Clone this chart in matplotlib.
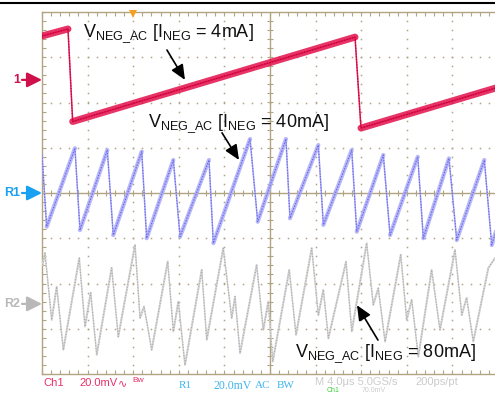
import numpy as np
import matplotlib.pyplot as plt
from matplotlib.ticker import MultipleLocator
from matplotlib.lines import Line2D

plt.rcParams['font.family'] = ['Liberation Sans', 'DejaVu Sans']
plt.rcParams['mathtext.default'] = 'regular'

# time base 4 us/div, 10 div; all channels 20 mV/div
# Ch1 : V_NEG_AC @ 4 mA  (offset +2.5 div)
red_t = [0.0, 2.28, 2.69, 27.46, 27.98, 40.0]
red_mv = [19.4, 22.5, -18.4, 18.9, -21.3, -3.3]
red_off = 2.5

# R1 : V_NEG_AC @ 40 mA  (offset 0 div)
r1_t = [0.00, 0.41, 2.89, 3.33, 5.73, 6.25, 8.75, 9.18, 11.52, 12.11,
        14.65, 15.03, 18.25, 18.92, 21.40, 21.75, 24.24, 24.68, 27.17, 27.61,
        29.94, 30.53, 32.96, 33.45, 35.70, 36.38, 38.80, 39.45, 40.0]
r1_mv = [16.8, -14.9, 19.8, -16.4, 19.0, -18.6, 18.3, -20.0, 14.6, -19.3,
         14.6, -22.2, 23.9, -12.7, 23.9, -11.2, 21.2, -14.1, 19.0, -17.1,
         16.8, -18.6, 16.0, -20.0, 15.3, -20.8, 14.6, -23.0, -14.0]
r1_off = 0.0

# R2 : V_NEG_AC @ 80 mA  (offset -2.45 div)
r2_t = [0.06, 0.26, 0.85, 1.29, 1.87, 3.27, 3.77, 4.27, 4.80, 6.11,
        6.69, 8.16, 8.60, 8.95, 9.62, 11.03, 11.52, 11.96, 12.54, 14.01,
        14.45, 15.90, 16.64, 16.93, 17.37, 18.83, 19.41, 19.85, 20.24, 21.69,
        22.28, 23.66, 24.24, 24.68, 25.12, 26.67, 27.17, 28.48, 29.06, 29.50,
        30.09, 31.47, 31.99, 32.43, 33.01, 34.18, 34.91, 36.23, 36.82, 37.25,
        37.83, 39.15, 39.74]
r2_mv = [17.2, 22.5, -7.1, 7.6, -20.3, 20.2, -10.0, 4.9, -22.5, 15.9,
         -14.5, 26.1, -6.2, -1.2, -20.3, 18.7, -12.2, 1.0, -27.0, 15.0,
         -15.9, 24.6, -6.3, 3.2, -21.8, 17.2, -11.5, 1.0, -25.5, 15.0,
         -13.7, 24.6, -4.9, 6.2, -15.2, 18.6, -12.2, 26.8, -0.4, 6.9,
         -16.7, 21.7, -7.1, 1.8, -23.3, 15.0, -11.5, 23.9, -4.9, 2.7,
         -16.7, 15.8, 20.3]
r2_off = -2.45

mv_per_div = 20.0

W, H = 495, 393
fig = plt.figure(figsize=(W / 100, H / 100), dpi=100)
ax = fig.add_axes([42 / W, 19 / H, 456 / W, 362 / H])
ax.set_xlim(0, 40)
ax.set_ylim(-4, 4)

grid_c = '#b0a482'
for s in ['left', 'top', 'bottom']:
    ax.spines[s].set_color(grid_c)
    ax.spines[s].set_linewidth(1.0)
ax.spines['right'].set_visible(False)
ax.xaxis.set_major_locator(MultipleLocator(4))
ax.xaxis.set_minor_locator(MultipleLocator(0.8))
ax.yaxis.set_major_locator(MultipleLocator(1))
ax.yaxis.set_minor_locator(MultipleLocator(0.2))
ax.tick_params(which='both', direction='in', length=3, width=0.8, color=grid_c,
               top=True, bottom=True, left=True, right=False,
               labelbottom=False, labelleft=False)

# dotted graticule
for gx in [4, 8, 12, 16, 24, 28, 32, 36]:
    yy = np.arange(-4, 4.01, 0.2)
    ax.plot(np.full_like(yy, gx), yy, ls='none', marker='s', ms=1.1, mew=0, color=grid_c, zorder=1)
for gy in [-3, -2, -1, 1, 2, 3]:
    xx = np.arange(0, 40.01, 0.8)
    ax.plot(xx, np.full_like(xx, gy), ls='none', marker='s', ms=1.1, mew=0, color=grid_c, zorder=1)

# centre cross with ticks
ax.axhline(0, color=grid_c, lw=1.0, zorder=1)
ax.axvline(20, color=grid_c, lw=1.0, zorder=1)
xx = np.arange(0, 40.01, 0.8)
ax.plot(xx, np.zeros_like(xx), ls='none', marker='|', ms=5, mew=0.8, color=grid_c, zorder=1)
yy = np.arange(-4, 4.01, 0.2)
ax.plot(np.full_like(yy, 20), yy, ls='none', marker='_', ms=5, mew=0.8, color=grid_c, zorder=1)


def draw_trace(t, mv, off, thin_c, thick_c, thick_lw, dot_c=None):
    t = np.array(t)
    y = off + np.array(mv) / mv_per_div
    ax.plot(t, y, color=thin_c, lw=1.1, zorder=3, solid_joinstyle='round')
    for i in range(len(t) - 1):
        if y[i + 1] > y[i]:
            ax.plot(t[i:i + 2], y[i:i + 2], color=thick_c, lw=thick_lw, zorder=3,
                    solid_capstyle='round', alpha=0.85)
    if dot_c is not None:
        ax.plot(t, y, color=dot_c, lw=0.8, ls=(0, (1, 1.5)), zorder=4)


draw_trace(r2_t, r2_mv, r2_off, '#d4d4d4', '#d8d8d8', 1.5, '#ababab')
draw_trace(r1_t, r1_mv, r1_off, '#a4a4f6', '#adadf7', 3.0, '#6262e8')
draw_trace(red_t, red_mv, red_off, '#e8195a', '#e3104c', 5.0, '#b80038')

# trigger marker
ax.plot(8, 3.95, marker='v', ms=6, color='#f5a020', mew=0, clip_on=False, zorder=5)

# annotations
lbl = r'V$_{NEG\_AC}$ [I$_{NEG}$ = %s]'
fs = 13
ax.text(3.6, 3.45, lbl % '4mA', fontsize=fs, color='#111111', zorder=6)
ax.text(9.3, 1.46, lbl % '40mA', fontsize=fs, color='#111111', zorder=6)
ax.text(22.2, -3.62, lbl % '80mA', fontsize=fs, color='#111111', zorder=6)
arr = dict(arrowstyle='-|>,head_length=0.9,head_width=0.4', color='black', lw=1.2,
           shrinkA=0, shrinkB=0, mutation_scale=10)
ax.annotate('', xy=(12.54, 2.50), xytext=(10.96, 3.16), arrowprops=arr, zorder=6)
ax.annotate('', xy=(17.28, 0.73), xytext=(15.79, 1.33), arrowprops=arr, zorder=6)
ax.annotate('', xy=(27.63, -2.48), xytext=(29.47, -3.25), arrowprops=arr, zorder=6)

# channel markers on the left
marks = [('1', red_off, '#d0104a'), ('R1', r1_off, '#1aa0f0'), ('R2', r2_off, '#b8b8b8')]
for name, off, c in marks:
    ax.annotate('', xy=(0, off), xytext=(-20, 0), textcoords='offset pixels',
                arrowprops=dict(arrowstyle='-|>,head_length=0.9,head_width=0.45', color=c,
                                lw=1.6, shrinkA=0, shrinkB=0, mutation_scale=10),
                annotation_clip=False)
    ax.annotate(name, xy=(0, off), xytext=(-22, 0), textcoords='offset pixels',
                ha='right', va='center', fontsize=9, fontweight='bold', color=c,
                annotation_clip=False)

# top black rule
fig.add_artist(Line2D([0, 1], [1 - 3 / H, 1 - 3 / H], color='black', lw=1.5))


def ftext(x, y, s, c, **kw):
    fig.text(x / W, 1 - y / H, s, color=c, va='center', ha='left', **kw)


red_c = '#e8306a'
blue_c = '#40b4f0'
gray_c = '#cccccc'
ftext(43, 383, 'Ch1', red_c, fontsize=8)
ftext(79, 383, '20.0mV', red_c, fontsize=8)
ftext(118, 383, '\u223f', red_c, fontsize=8, family=['DejaVu Sans'])
ftext(132, 381, 'Bw', red_c, fontsize=6)
ftext(179, 386, 'R1', blue_c, fontsize=8, family=['Liberation Serif'])
ftext(213, 386, '20.0mV', blue_c, fontsize=8.5, family=['Liberation Serif'])
ftext(255, 386, 'AC', blue_c, fontsize=8, family=['Liberation Serif'])
ftext(277, 386, 'BW', blue_c, fontsize=8, family=['Liberation Serif'])
ftext(315, 382, 'M 4.0\u03bcs 5.0GS/s', gray_c, fontsize=8)
ftext(415, 382, '200ps/pt', gray_c, fontsize=8)
ftext(327, 390, 'Ch1', '#40d040', fontsize=5)
ftext(362, 390, '70.0mV', gray_c, fontsize=5)

fig.savefig('out.png', dpi=100)
